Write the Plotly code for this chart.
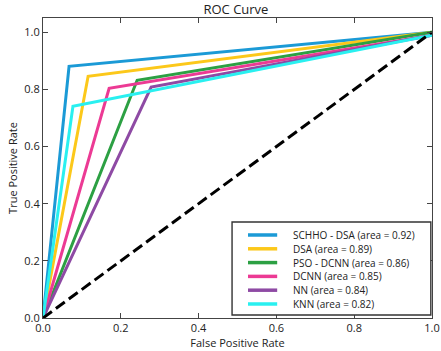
import plotly.graph_objects as go

# ROC points per model (knee point between (0,0) and (1,1))
names = ["SCHHO - DSA", "DSA", "PSO - DCNN", "DCNN", "NN", "KNN"]
areas = [0.92, 0.89, 0.86, 0.85, 0.84, 0.82]
fpr = [[0.0, 0.067, 1.0], [0.0, 0.116, 1.0], [0.0, 0.242, 1.0],
       [0.0, 0.170, 1.0], [0.0, 0.278, 1.0], [0.0, 0.077, 1.0]]
tpr = [[0.0, 0.881, 1.0], [0.0, 0.846, 1.0], [0.0, 0.832, 1.0],
       [0.0, 0.804, 0.99], [0.0, 0.808, 0.99], [0.0, 0.741, 0.99]]
colors = ["#1b9ad6", "#fcc81a", "#2ca043", "#ec3a94", "#8e4aa4", "#29f0f0"]

FONT = "Open Sans"

fig = go.Figure()
for name, area, x, y, c in zip(names, areas, fpr, tpr, colors):
    fig.add_trace(go.Scatter(x=x, y=y, mode="lines", line=dict(color=c, width=3),
                             name=f"{name} (area = {area:.2f})", showlegend=False))

# chance line
fig.add_trace(go.Scatter(x=[0, 1], y=[0, 1], mode="lines", showlegend=False,
                         line=dict(color="black", width=3, dash="11px,5px")))

# hand-built legend box (matplotlib style, tighter rows than plotly's legend)
shapes = [dict(type="rect", xref="paper", yref="paper", x0=0.486, x1=0.997,
               y0=0.01, y1=0.32, line=dict(color="#333", width=1.4),
               fillcolor="white", layer="above")]
annotations = []
row_top, row_step = 0.2767, 0.046
for i, (name, area, c) in enumerate(zip(names, areas, colors)):
    yy = row_top - i * row_step
    shapes.append(dict(type="line", xref="paper", yref="paper", x0=0.527, x1=0.602,
                       y0=yy, y1=yy, line=dict(color=c, width=3.5), layer="above"))
    annotations.append(dict(xref="paper", yref="paper", x=0.638, y=yy,
                            xanchor="left", yanchor="middle", showarrow=False,
                            text=f"{name} (area = {area:.2f})",
                            font=dict(family=FONT, size=10, color="#222")))

axis = dict(showgrid=False, zeroline=False, ticks="inside", ticklen=5,
            mirror="ticks", showline=True, linecolor="#444", linewidth=1.2,
            tickcolor="#444", automargin=False,
            tickfont=dict(family=FONT, size=11, color="#222"), dtick=0.2,
            tickformat=".1f")

fig.update_layout(
    width=441, height=351,
    margin=dict(l=43, r=9, t=18, b=33),
    paper_bgcolor="white", plot_bgcolor="white",
    font=dict(family=FONT, color="#222"),
    title=dict(text="ROC Curve", x=0.535, y=1 - 9 / 351, xanchor="center",
               yanchor="middle", font=dict(family=FONT, size=13)),
    xaxis=dict(axis, range=[0, 1], title=dict(text="False Positive Rate",
               font=dict(family=FONT, size=11), standoff=2)),
    yaxis=dict(axis, range=[0, 1.05], title=dict(text="True Positive Rate",
               font=dict(family=FONT, size=11), standoff=4)),
    shapes=shapes,
    annotations=annotations,
    showlegend=False,
)

fig.write_html("out.html", config={"displayModeBar": False},
               post_script="document.body.style.margin='0px';")
